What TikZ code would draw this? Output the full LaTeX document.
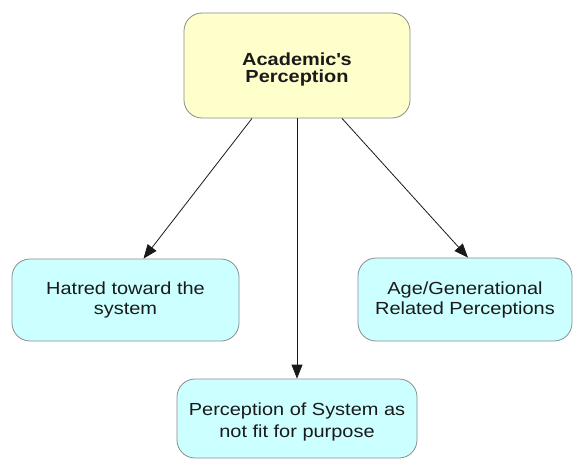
\documentclass[tikz,border=0pt]{standalone}
\usepackage{fontspec}
\setmainfont[FakeStretch=1.14]{Liberation Sans}
\usetikzlibrary{arrows.meta}
\definecolor{headfill}{HTML}{FFFFCC}
\definecolor{leaffill}{HTML}{CCFFFF}
\definecolor{edgegray}{HTML}{8C8C8C}
\definecolor{inkdark}{HTML}{1A1A1A}
\tikzset{
  box/.style={draw=edgegray, line width=0.8pt, rounded corners=18pt, align=center,
    font=\fontsize{17.5}{20}\selectfont, text=inkdark},
  headbox/.style={box, fill=headfill, font=\bfseries\fontsize{17.5}{19}\selectfont},
  leafbox/.style={box, fill=leaffill},
  arr/.style={draw=black!90, line width=0.8pt, -{Triangle[length=14pt,width=11pt]}}
}
\begin{document}
\begin{tikzpicture}[x=1pt,y=-1pt]
  \useasboundingbox (0,0) rectangle (573,460);
  \node[headbox, minimum width=226pt, minimum height=105pt, text depth=0pt] (head) at (297,65.5)
    {\raisebox{-4pt}{\shortstack{Academic\textquotesingle s\\[1pt]Perception}}};
  \node[leafbox, minimum width=227pt, minimum height=82pt] (hatred) at (125.5,300)
    {Hatred toward the\\system};
  \node[leafbox, minimum width=214pt, minimum height=83pt] (age) at (465,299.5)
    {Age/Generational\\Related Perceptions};
  \node[leafbox, minimum width=240pt, minimum height=79pt, text depth=0pt] (fit) at (297,418.5)
    {\raisebox{-3pt}{\shortstack{Perception of System as\\[2pt]not fit for purpose}}};
  \draw[arr] ([xshift=-45pt]head.south) -- ([xshift=18pt]hatred.north);
  \draw[arr] (head.south) -- (fit.north);
  \draw[arr] ([xshift=45pt]head.south) -- ([xshift=3pt]age.north);
\end{tikzpicture}
\end{document}
